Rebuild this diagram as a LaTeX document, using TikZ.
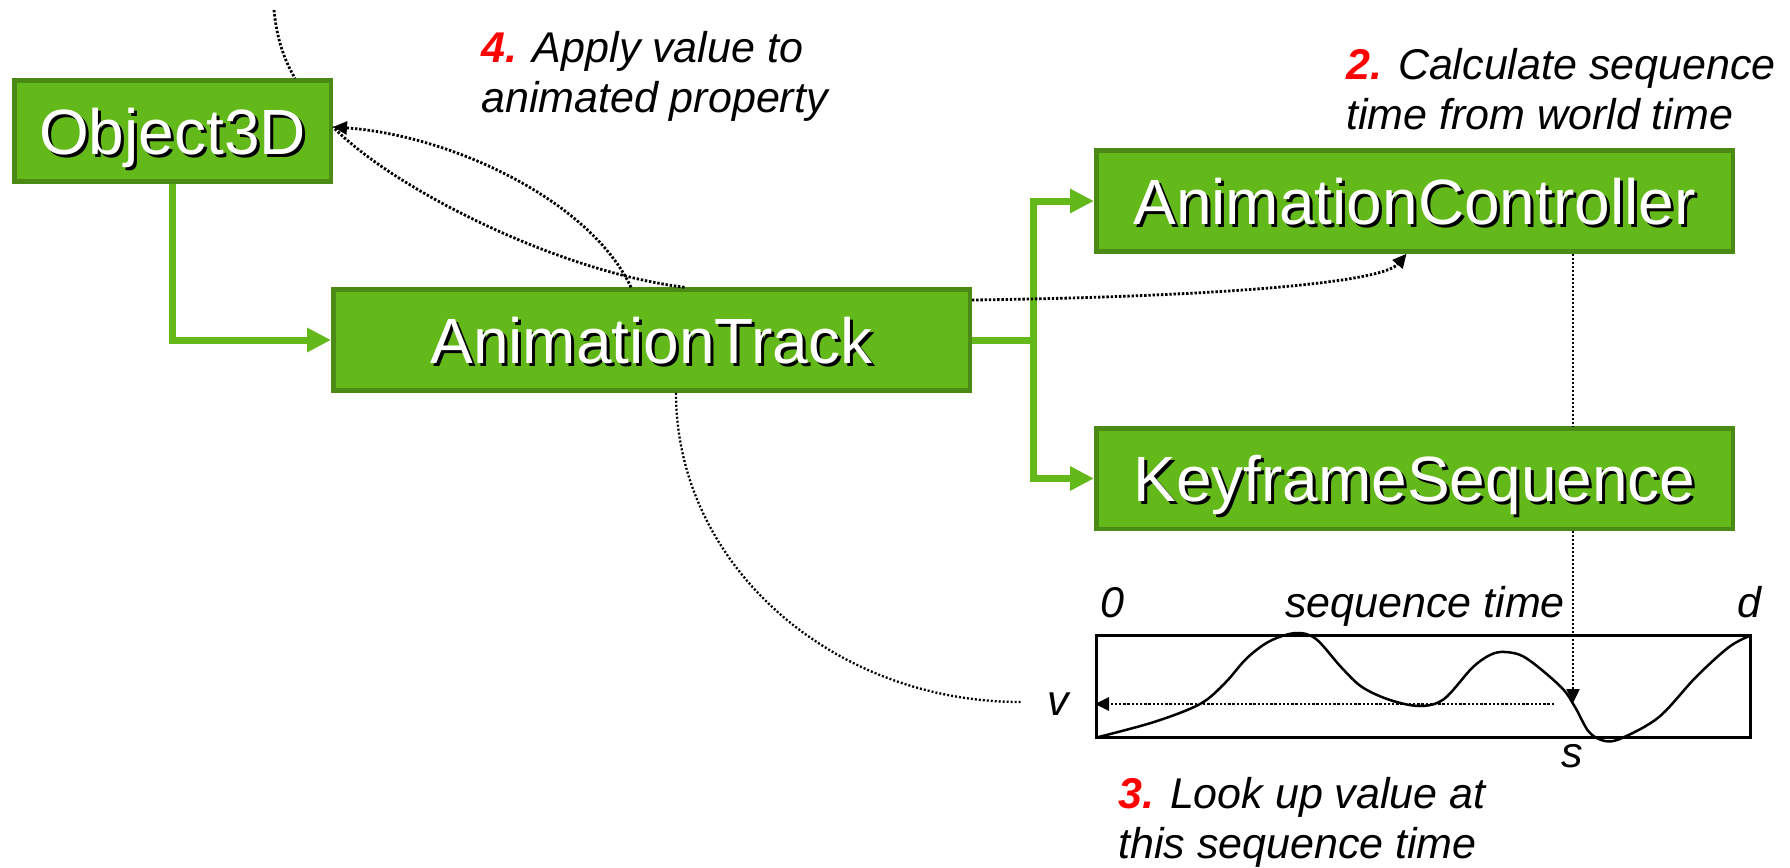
\documentclass[tikz,border=0pt]{standalone}
\usepackage{fontspec}
\setmainfont{Liberation Sans}
\usetikzlibrary{arrows.meta}

\definecolor{boxgreen}{RGB}{99,185,26}
\definecolor{boxedge}{RGB}{75,138,20}
\definecolor{stepred}{RGB}{255,0,0}

% white lettering with a small black drop shadow
\newcommand\embossed[1]{\rlap{\kern3pt\raisebox{-3pt}{\textcolor{black}{#1}}}\textcolor{white}{#1}}
\newcommand\stepno[1]{\textcolor{stepred}{\bfseries #1}}

\begin{document}
\begin{tikzpicture}[x=1pt,y=-1pt,
  classbox/.style={draw=boxedge, line width=4.5pt, fill=boxgreen, inner sep=0pt,
    minimum height=101pt, text height=46pt, text depth=0pt,
    font=\fontsize{64}{70}\selectfont},
  flow/.style={draw=boxgreen, line width=7pt},
  flowarrow/.style={flow, -{Triangle[length=24pt,width=23pt]}},
  dots/.style={line width=2.8pt, dash pattern=on 2.4pt off 1.8pt},
  finedots/.style={line width=2.3pt, dash pattern=on 2pt off 2pt},
  dotarrow/.style={dots, -{Triangle[length=14pt,width=13pt]}},
  note/.style={font=\fontsize{43}{50}\selectfont\itshape, inner sep=0pt, align=left},
  axis/.style={font=\fontsize{43}{50}\selectfont\itshape, inner sep=0pt}]

\useasboundingbox (0,0) rectangle (1790,867);

\coordinate (worldtime) at (274,10);
\coordinate (vend) at (1021,702);
\coordinate (sdrop) at (1573,703);
\coordinate (vstart) at (1554,704);

% --- class boxes ---
\node[classbox, minimum width=316.5pt] (obj) at (172.5,131) {\embossed{Object3D}};
\node[classbox, minimum width=636.5pt] (track) at (651.5,340) {\embossed{AnimationTrack}};
\node[classbox, minimum width=636.5pt] (ctrl) at (1414.5,201) {\embossed{AnimationController}};
\node[classbox, minimum width=636.5pt, minimum height=100.5pt] (keys) at (1414.5,478.5) {\embossed{KeyframeSequence}};

% --- sequence graph ---
\node[draw, line width=3pt, inner sep=0pt, minimum width=654pt, minimum height=102pt] (graph) at (1423.5,686.5) {};
\draw[line width=2.5pt, line join=round]
  plot[smooth, tension=0.55] coordinates {
    (1096.5,737.5) (1154,722) (1200,704) (1225,683) (1247,658) (1270,641)
    (1296,633) (1316,639) (1341,667) (1362,687) (1390,700) (1420,706)
    (1444,699) (1472,668) (1490,655) (1505,652) (1526,658) (1561,687)
    (1575,707) (1589,732) (1605,741) (1622,738) (1659,717) (1696,677)
    (1729,647) (1750.5,635.5)};

\node[axis, anchor=base west] (zero) at (1100,617) {0};
\node[axis, anchor=base] (seqtime) at (1425,617) {sequence time};
\node[axis, anchor=base west] (dur) at (1737,617) {d};
\node[axis, anchor=base west] (vlab) at (1047,715) {v};
\node[axis, anchor=base west] (slab) at (1561,767) {s};

% --- ownership / reference connectors ---
\draw[flowarrow] (obj.south) |- (track.west);
\coordinate (fork) at (1033.5,340);
\draw[flow] (track.east) -- (fork);
\draw[flowarrow] (fork) |- (ctrl.west);
\draw[flowarrow] (fork) |- (keys.west);

% --- dotted data flow ---
\draw[dots] (worldtime) .. controls (277,42) and (286,63) .. ([xshift=122.5pt]obj.north);
\draw[dotarrow] ([xshift=-20.5pt]track.north) .. controls (590,200) and (450,135) .. ([yshift=4pt]obj.east);
\draw[dots] ([xshift=33pt]track.north) .. controls (560,272) and (395,190) .. ([yshift=4pt]obj.east);
\draw[dotarrow] ([yshift=40pt]track.east) .. controls (1201,297) and (1381,284) .. ([xshift=-8pt]ctrl.south);
\draw[finedots] ([xshift=158.5pt]ctrl.south) -- ([xshift=158.5pt]keys.north);
\draw[finedots, -{Triangle[length=14pt,width=13pt]}] ([xshift=158.5pt]keys.south) -- (sdrop);
\draw[dotarrow] (vstart) -- (graph.west |- vstart);
\draw[finedots] ([xshift=24.5pt]track.south) .. controls (676,564) and (831,702) .. (vend);

% --- step annotations (anchored on the baseline of their last line) ---
\node[note, anchor=base west] (step4) at (481,112) {\stepno{4.} Apply value to\\animated property};
\node[note, anchor=base west] (step2) at (1346,129) {\stepno{2.} Calculate sequence\\time from world time};
\node[note, anchor=base west] (step3) at (1118,858) {\stepno{3.} Look up value at\\this sequence time};

\end{tikzpicture}
\end{document}
